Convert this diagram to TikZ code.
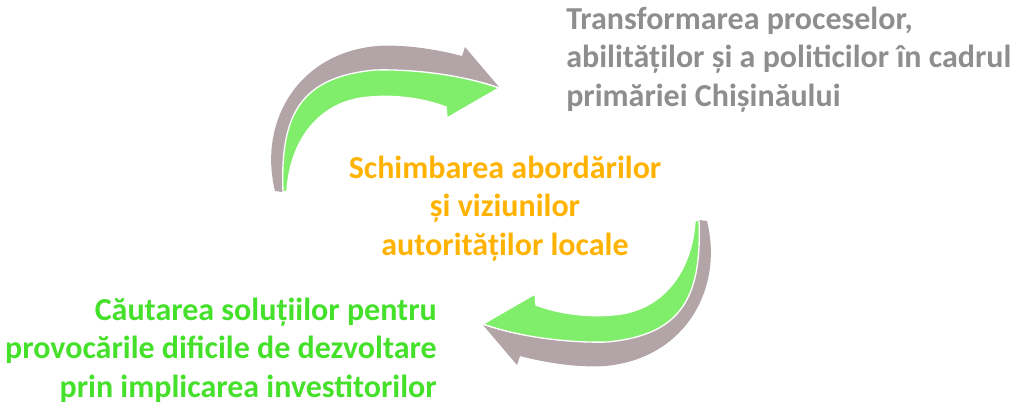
\documentclass[tikz,border=0pt]{standalone}
\usepackage{fontspec}
\setmainfont{Carlito}
\definecolor{arrgray}{HTML}{B3A5A7}
\definecolor{arrgreen}{HTML}{80EE6A}
\definecolor{txtgray}{HTML}{8E8E8E}
\definecolor{txtorange}{HTML}{FFB300}
\definecolor{txtgreen}{HTML}{44E02A}
\begin{document}
\begin{tikzpicture}[x=0.75pt,y=-0.75pt,
  backface/.style={fill=arrgray,draw=none},
  frontface/.style={fill=arrgreen,draw=white,line width=1pt,line join=miter},
  lbl/.style={font=\fontsize{24}{28.7}\selectfont\bfseries,inner sep=0pt}]
\useasboundingbox (0,0) rectangle (1021,405);
\newcommand{\curvedarrow}{%
  \path[backface] (275,191) .. controls (258,122) and (298,53) .. (377,46)
     .. controls (405,44) and (440,50) .. (462,56) -- (465,47) -- (499,87)
     .. controls (460,74) and (410,69) .. (375,70)
     .. controls (300,77) and (280,115) .. (283,192) -- cycle;
  \path[frontface] (283,192) .. controls (280,115) and (300,77) .. (375,70)
     .. controls (410,69) and (460,74) .. (499,88) -- (447,118) -- (446,107)
     .. controls (420,97) and (390,95) .. (370,97)
     .. controls (320,100) and (290,140) .. (287,191) -- cycle;}
\curvedarrow
\begin{scope}[rotate around={180:(491,206)}]
\curvedarrow
\end{scope}
\node[lbl,text=txtgray,align=left,anchor=base west] (top) at (566,106)
  {Transformarea proceselor,\\abilităților și a politicilor în cadrul\\primăriei Chișinăului};
\node[lbl,text=txtorange,align=center,anchor=base] (mid) at (505,255)
  {Schimbarea abordărilor\\și viziunilor\\autorităților locale};
\node[lbl,text=txtgreen,align=right,anchor=base east] (bot) at (437,397)
  {Căutarea soluțiilor pentru\\provocările dificile de dezvoltare\\prin implicarea investitorilor};
\end{tikzpicture}
\end{document}
